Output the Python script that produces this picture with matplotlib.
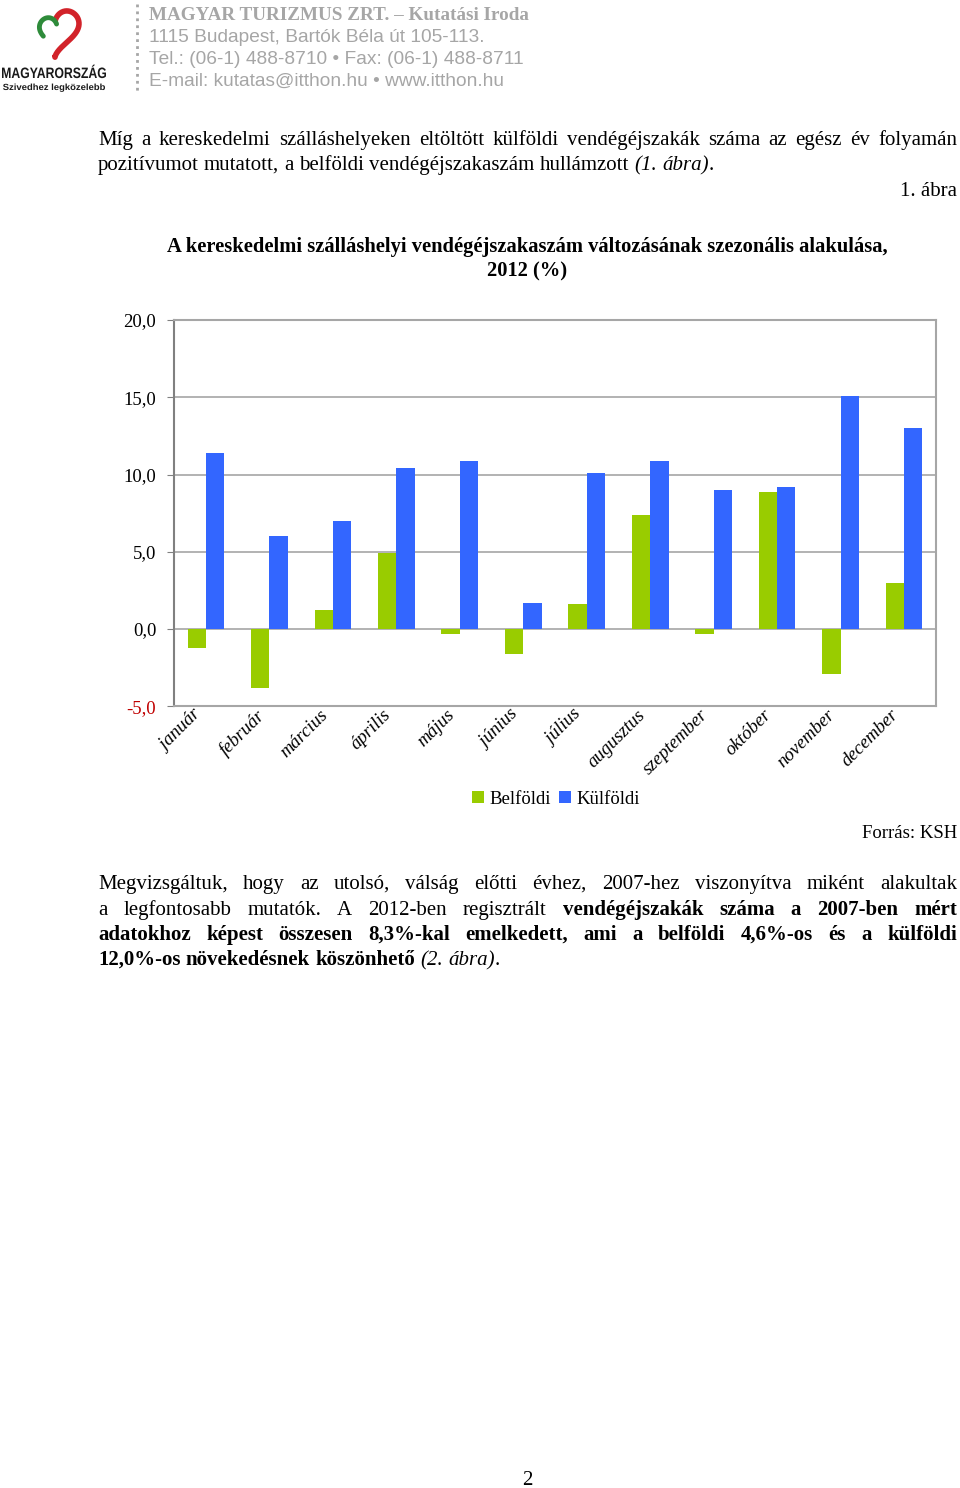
import numpy as np
import matplotlib.pyplot as plt
from matplotlib.transforms import ScaledTranslation, Affine2D
from matplotlib.textpath import TextPath
from matplotlib.patches import PathPatch
from matplotlib.font_manager import FontProperties

months = ['január', 'február', 'március', 'április', 'május', 'június',
          'július', 'augusztus', 'szeptember', 'október', 'november', 'december']
belfoldi = [-1.2, -3.8, 1.2, 4.9, -0.3, -1.6, 1.6, 7.4, -0.3, 8.9, -2.9, 3.0]
kulfoldi = [11.4, 6.0, 7.0, 10.4, 10.9, 1.7, 10.1, 10.9, 9.0, 9.2, 15.1, 13.0]
yticks = [-5, 0, 5, 10, 15, 20]
ytick_labels = ['-5,0', '0,0', '5,0', '10,0', '15,0', '20,0']

green = '#99cc00'
blue = '#3366ff'
gridc = '#a6a6a6'
SERIF = 'Liberation Serif'
SANS = 'Liberation Sans'
BODY = 15

fig = plt.figure(figsize=(9.6, 14.88), dpi=100)
# page axes in pixel coordinates
page = fig.add_axes([0, 0, 1, 1])
page.set_xlim(0, 960)
page.set_ylim(1488, 0)
page.axis('off')
renderer = fig.canvas.get_renderer()


def width_of(s, **kw):
    t = page.text(0, 0, s, **kw)
    w = t.get_window_extent(renderer).width
    t.remove()
    return w


def para_line(y, chunks, size=BODY, x0=98, x1=957, full=True):
    # chunks: (text, weight, style); a chunk without leading space sticks to previous word
    words = [[]]
    for text, weight, style in chunks:
        for i, part in enumerate(text.split(' ')):
            if i > 0:
                words.append([])
            if part:
                words[-1].append((part, weight, style))
    words = [w for w in words if w]
    sizes = []
    for w in words:
        sizes.append([width_of(p, fontsize=size, family=SERIF, weight=wt, style=st)
                      for p, wt, st in w])
    total = sum(sum(s) for s in sizes)
    if full:
        gap = (x1 - x0 - total) / (len(words) - 1)
    else:
        gap = 0.25 * size * 100 / 72
    x = x0
    for w, s in zip(words, sizes):
        for (p, wt, st), pw in zip(w, s):
            page.text(x, y, p, fontsize=size, family=SERIF, weight=wt, style=st,
                      va='baseline', ha='left')
            x += pw
        x += gap


def squeezed_text(s, x0, x1, baseline, cap, weight='bold'):
    # text drawn as a path, stretched to fit x0..x1 with given cap height
    tp = TextPath((0, 0), s, size=10, prop=FontProperties(family=SANS, weight=weight))
    ext = tp.get_extents()
    sx = (x1 - x0) / ext.width
    sy = cap / 7.3
    tr = Affine2D().translate(-ext.x0, 0).scale(sx, -sy).translate(x0, baseline)
    page.add_patch(PathPatch(tr.transform_path(tp), color='#1a1a1a', lw=0))


# header
t = np.linspace(0, 2 * np.pi, 300)
hx = 16 * np.sin(t) ** 3
hy = 13 * np.cos(t) - 5 * np.cos(2 * t) - 2 * np.cos(3 * t) - np.cos(4 * t)
m = (t > 0.25) & (t < 3.3)
page.plot(55 + 1.5 * hx[m], 30 - 1.6 * hy[m], color='#d2232a', lw=4, solid_capstyle='round')
m2 = (t > 4.3) & (t < 6.0)
page.plot(57 + 1.1 * hx[m2], 32 - 1.2 * hy[m2], color='#2e8b3a', lw=3.5, solid_capstyle='round')
squeezed_text('MAGYARORSZÁG', 2, 106, 78, 11)
squeezed_text('Szivedhez legközelebb', 3, 105, 90, 6.5)
page.plot([137, 137], [4, 92], color='#a6a6a6', lw=2, ls=(0, (1, 1.5)))
page.text(149, 20, 'MAGYAR TURIZMUS ZRT. – Kutatási Iroda', fontsize=13.8, family=SERIF,
          weight='bold', color='#a6a6a6', va='baseline')
page.text(149, 42, '1115 Budapest, Bartók Béla út 105-113.', fontsize=13.8, family=SANS,
          color='#a6a6a6', va='baseline')
page.text(149, 64, 'Tel.: (06-1) 488-8710 • Fax: (06-1) 488-8711', fontsize=13.8, family=SANS,
          color='#a6a6a6', va='baseline')
page.text(149, 86, 'E-mail: kutatas@itthon.hu • www.itthon.hu', fontsize=13.8, family=SANS,
          color='#a6a6a6', va='baseline')

# first paragraph
para_line(145, [('Míg a kereskedelmi szálláshelyeken eltöltött külföldi vendégéjszakák száma az egész év folyamán', 'normal', 'normal')])
para_line(170, [('pozitívumot mutatott, a belföldi vendégéjszakaszám hullámzott ', 'normal', 'normal'),
                ('(1. ábra)', 'normal', 'italic'), ('.', 'normal', 'normal')], full=False)
page.text(957, 196, '1. ábra', fontsize=BODY, family=SERIF, ha='right', va='baseline')

# chart title
page.text(527, 252, 'A kereskedelmi szálláshelyi vendégéjszakaszám változásának szezonális alakulása,',
          fontsize=14.8, family=SERIF, weight='bold', ha='center', va='baseline')
page.text(527, 276, '2012 (%)', fontsize=14.8, family=SERIF, weight='bold', ha='center', va='baseline')

# chart
ax = fig.add_axes([174.3 / 960, 1 - 706.3 / 1488, 761.4 / 960, 386.3 / 1488])
x = np.arange(len(months))
w = 0.29
b1 = ax.bar(x - w / 2, belfoldi, w, color=green, zorder=3, label='Belföldi')
b2 = ax.bar(x + w / 2, kulfoldi, w, color=blue, zorder=3, label='Külföldi')
ax.set_xlim(-0.5, len(months) - 0.5)
ax.set_ylim(-5, 20)
ax.set_yticks(yticks, ytick_labels, family=SERIF, fontsize=13.5)
ax.get_yticklabels()[0].set_color('#c00000')
ax.yaxis.grid(True, color=gridc, lw=1.2)
ax.set_axisbelow(True)
ax.set_xticks(x, months, rotation=45, ha='right', va='top', rotation_mode='anchor',
              family=SERIF, style='italic', fontsize=13.5)
ax.tick_params(axis='x', length=0, pad=0)
ax.tick_params(axis='y', length=5, color='#808080', pad=8)
shift = ScaledTranslation(-14 / 100, 0, fig.dpi_scale_trans)
for lab in ax.get_xticklabels():
    lab.set_transform(lab.get_transform() + shift)
for s in ax.spines.values():
    s.set_color(gridc)
    s.set_linewidth(1.5)
ax.spines['left'].set_color('#808080')

fig.legend(handles=[b1, b2], loc='center', bbox_to_anchor=(556 / 960, 1 - 799 / 1488),
           ncol=2, frameon=False, handlelength=0.65, handleheight=0.65,
           columnspacing=0.4, handletextpad=0.3, prop={'family': SERIF, 'size': 13.5})

page.text(957, 838, 'Forrás: KSH', fontsize=13.5, family=SERIF, ha='right', va='baseline')

# second paragraph
para_line(889, [('Megvizsgáltuk, hogy az utolsó, válság előtti évhez, 2007-hez viszonyítva miként alakultak', 'normal', 'normal')])
para_line(915, [('a legfontosabb mutatók. A 2012-ben regisztrált ', 'normal', 'normal'),
                ('vendégéjszakák száma a 2007-ben mért', 'bold', 'normal')])
para_line(940, [('adatokhoz képest összesen 8,3%-kal emelkedett, ami a belföldi 4,6%-os és a külföldi', 'bold', 'normal')])
para_line(965, [('12,0%-os növekedésnek köszönhető', 'bold', 'normal'), (' (2. ábra)', 'normal', 'italic'),
                ('.', 'normal', 'normal')], full=False)

page.text(527, 1485, '2', fontsize=BODY, family=SERIF, ha='center', va='baseline')

fig.savefig('out.png', dpi=100)
